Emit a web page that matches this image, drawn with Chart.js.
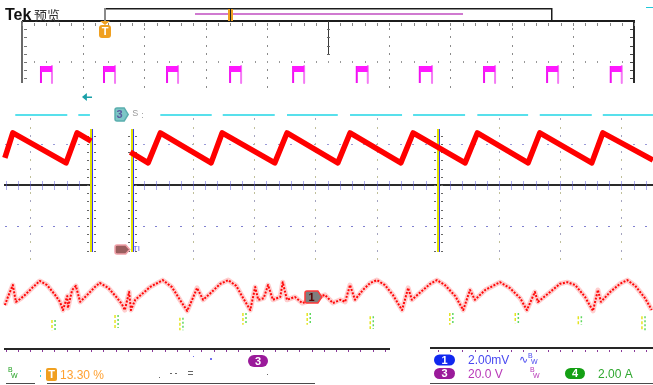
<!DOCTYPE html>
<html>
<head>
<meta charset="utf-8">
<script src="https://cdn.jsdelivr.net/npm/chart.js@4/dist/chart.umd.min.js"></script>
<style>
  html, body { margin: 0; padding: 0; background: #fff; }
  #wrap { width: 653px; height: 385px; position: relative; }
</style>
</head>
<body>
<div id="wrap"><canvas id="scope"></canvas></div>
<script>
// Screen units: x in horizontal divisions (0..10 across the graticule),
// y in vertical divisions (0 = centre line, +/-4 = graticule edges).
const X_MIN = -0.3595, X_MAX = 10.3105;
const Y_MIN = -4.878, Y_MAX = 4.512;

// Channel 3 gate pulses (upper window): edge times in div
const pulseRise = [0.31, 1.34, 2.37, 3.40, 4.43, 5.47, 6.50, 7.55, 8.58, 9.62];
const pulseFall = [0.49, 1.52, 2.55, 3.58, 4.61, 5.65, 6.70, 7.73, 8.76, 9.80];
const PULSE_HIGH = 2.90, PULSE_LOW = 2.49, PULSE_TOP = 2.83;

// Channel 2 level segments (cyan)
const cyanStart = [-0.11, 0.92, 2.26, 3.28, 4.33, 5.36, 6.39, 7.44, 8.46, 9.49];
const cyanEnd   = [0.74, 1.11, 3.10, 4.13, 5.16, 6.21, 7.24, 8.27, 9.31, 10.31];
const CYAN_LEVEL = 1.71;

// Channel 4 inductor current sawtooth: vertex times / levels (two captured spans)
const sawLeftT = [-0.28, -0.15, 0.72, 0.90, 1.13];
const sawLeftV = [0.66, 1.27, 0.54, 1.27, 1.07];
const sawRightT = [1.77, 2.06, 2.26, 3.09, 3.27, 4.13, 4.33, 5.16, 5.36, 6.19, 6.39, 7.24, 7.44, 8.27, 8.46, 9.31, 9.49, 10.31];
const sawRightV = [0.80, 0.54, 1.27, 0.54, 1.27, 0.54, 1.27, 0.54, 1.27, 0.54, 1.27, 0.54, 1.27, 0.54, 1.27, 0.54, 1.27, 0.61];

// Channel 1 ripple (lower window)
const ch1T = [
  -0.28, -0.23, -0.15, -0.10, -0.03, 0.05, 0.18, 0.29, 0.41, 0.54, 0.62, 0.67,
  0.74, 0.75, 0.82, 0.88, 0.95, 1.08, 1.19, 1.27, 1.41, 1.54, 1.63, 1.68,
  1.75, 1.78, 1.85, 1.96, 2.09, 2.30, 2.45, 2.58, 2.70,
  2.78, 2.86, 2.96, 3.10, 3.24, 3.37, 3.50, 3.63, 3.73,
  3.81, 3.86, 3.95, 4.02, 4.10, 4.22, 4.26, 4.33, 4.46, 4.58,
  4.95, 5.08, 5.20, 5.28, 5.36, 5.44, 5.57, 5.69, 5.80, 5.93, 6.06, 6.21,
  6.31, 6.37, 6.50, 6.67, 6.78, 6.91, 7.08, 7.21,
  7.32, 7.40, 7.57, 7.81, 7.97, 8.14, 8.25,
  8.38, 8.43, 8.63, 8.79, 8.91, 9.04, 9.20, 9.33,
  9.41, 9.46, 9.61, 9.77, 9.89, 10.02, 10.18, 10.29
];
const ch1V = [
  -2.93, -2.73, -2.44, -2.85, -2.78, -2.68, -2.49, -2.34, -2.44, -2.68, -2.85, -3.05,
  -2.71, -3.00, -2.56, -2.46, -2.85, -2.66, -2.49, -2.39, -2.51, -2.73, -2.90, -3.05,
  -2.61, -3.05, -2.80, -2.66, -2.49, -2.32, -2.49, -2.80, -3.07,
  -2.80, -2.51, -2.80, -2.61, -2.41, -2.32, -2.46, -2.80, -3.05,
  -2.49, -2.80, -2.76, -2.44, -2.80, -2.73, -2.37, -2.80, -2.73, -2.88,
  -2.68, -2.88, -2.80, -2.85, -2.44, -2.80, -2.56, -2.39, -2.32, -2.44, -2.68, -3.05,
  -2.51, -2.80, -2.63, -2.41, -2.32, -2.44, -2.71, -3.05,
  -2.56, -2.80, -2.56, -2.37, -2.51, -2.76, -3.05,
  -2.61, -2.85, -2.61, -2.41, -2.37, -2.44, -2.73, -3.07,
  -2.56, -2.85, -2.61, -2.41, -2.32, -2.46, -2.76, -3.05
];

// Short glitch strands under the lower trace
const glitchT1 = [0.49, 1.52, 2.58, 3.61, 4.66, 5.69, 6.99, 8.06, 9.09, 10.13];
const glitchT2 = [0.54, 1.57, 2.63, 3.66, 4.71, 5.74, 7.04, 8.11, 9.14, 10.18];
const glitchTop = [-3.29, -3.17, -3.24, -3.12, -3.12, -3.20, -3.12, -3.12, -3.20, -3.20];
const glitchBot = [-3.54, -3.49, -3.54, -3.41, -3.41, -3.51, -3.41, -3.37, -3.41, -3.54];

// Markers and overview strip positions (div)
const TRIG_T = 1.356;
const REC_START = 1.356, REC_END = 8.66, REC_TOP = 4.317;
const VIEW_START = 2.827, VIEW_END = 7.206, VIEW_LEVEL = 4.171, VIEW_MARK = 3.399;

// Readouts
const readouts = {
  trigLevel: '13.30 %',
  ch1: '2.00mV', ch3: '20.0 V', ch4: '2.00 A'
};

function trace(ts, vs) { return ts.map((t, i) => ({ x: t, y: vs[i] })); }

const riseEdges = [], fallEdges = [], pulseTops = [];
pulseRise.forEach((t, i) => {
  const f = pulseFall[i];
  riseEdges.push({ x: t, y: PULSE_LOW }, { x: t, y: PULSE_HIGH }, { x: t, y: null });
  fallEdges.push({ x: f, y: PULSE_HIGH }, { x: f, y: PULSE_LOW }, { x: f, y: null });
  pulseTops.push({ x: t, y: PULSE_TOP }, { x: f, y: PULSE_TOP }, { x: f, y: null });
});

const cyanSegs = [];
cyanStart.forEach((s, i) => {
  cyanSegs.push({ x: s, y: CYAN_LEVEL }, { x: cyanEnd[i], y: CYAN_LEVEL }, { x: cyanEnd[i], y: null });
});

const sawData = [...trace(sawLeftT, sawLeftV), { x: 1.13, y: null }, ...trace(sawRightT, sawRightV)];
const ch1Data = trace(ch1T, ch1V);

function strands(ts) {
  const out = [];
  ts.forEach((t, i) => out.push({ x: t, y: glitchTop[i] }, { x: t, y: glitchBot[i] }, { x: t, y: null }));
  return out;
}

const graticule = {
  id: 'graticule',
  beforeDatasetsDraw(chart) {
    const { ctx } = chart;
    const sx = chart.scales.x, sy = chart.scales.y;
    const X = t => Math.round(sx.getPixelForValue(t));
    const Y = v => Math.round(sy.getPixelForValue(v));
    const hline = (v, t0, t1, color, w) => {
      ctx.fillStyle = color; ctx.fillRect(X(t0), Y(v) - Math.floor(w / 2), X(t1) - X(t0), w);
    };
    const vline = (t, v0, v1, color, w) => {
      ctx.fillStyle = color; ctx.fillRect(X(t) - Math.floor(w / 2), Y(v0), w, Y(v1) - Y(v0));
    };
    const dot = (t, v, w, h, color) => {
      ctx.fillStyle = color; ctx.fillRect(X(t) - Math.floor(w / 2), Y(v) - Math.floor(h / 2), w, h);
    };
    ctx.save();

    // upper window frame
    hline(4, 0, 10.02, '#1c1c1c', 2);
    vline(0, 4, 2.49, '#6a6a6a', 2);
    vline(10, 4, 2.49, '#2a2a2a', 2);
    for (let k = 0; k <= 50; k++) dot(k * 0.2, 3.93, 1, 3, '#888');
    for (let k = 1; k <= 7; k++) {
      const v = 4 - k * 0.2;
      dot(0.05, v, 3, 1, '#777'); dot(9.95, v, 3, 1, '#444');
    }
    for (let i = 1; i <= 9; i++) {
      if (i === 5) continue;
      for (let k = 1; k <= 8; k++) dot(i, 4 - k * 0.2, 1, 2, '#8a8a8a');
    }
    vline(5, 4, 3.2, '#3a3a3a', 1);
    for (let k = 1; k <= 4; k++) dot(5, 4 - k * 0.2, 3, 1, '#666');
    for (let k = 1; k < 50; k++) dot(k * 0.2, 3, 1, 2, '#999');

    // middle window: centre line with its ticks (two captured spans)
    const leftMajor = 0.131, rightMajor = 1.794;
    hline(0, -0.29, 1.131, '#2a2a2a', 2);
    hline(0, 1.794, 10.32, '#2a2a2a', 2);
    const midTicks = [];
    for (let k = -2; k <= 4; k++) midTicks.push(leftMajor + k * 0.2);
    for (let k = 1; k <= 42; k++) midTicks.push(rightMajor + k * 0.2);
    midTicks.forEach(t => {
      ctx.fillStyle = 'rgba(90,90,220,0.5)';
      ctx.fillRect(X(t), Y(0) - 4, 1, 9);
    });
    midTicks.forEach(t => { dot(t, 1, 2, 1, '#9a9ad8'); dot(t, -1, 2, 1, '#8080d0'); });
    const midMajors = [0.131, 2.794, 3.794, 4.794, 5.794, 7.794, 8.794, 9.794];
    midMajors.forEach(t => {
      for (let k = -9; k <= 8; k++) {
        if (k === 0) continue;
        dot(t, k * 0.2, 1, 2, (k % 2 === 0) ? '#a4a4c0' : '#c0c09a');
      }
    });
    // cursor bars
    [1.131, 1.794, 6.794].forEach(t => {
      vline(t, 1.37, -1.63, '#e2e200', 2);
      ctx.fillStyle = '#3535ff'; ctx.fillRect(X(t) + 1, Y(1.37), 1, Y(-1.63) - Y(1.37));
      for (let k = -8; k <= 6; k++) {
        ctx.fillStyle = '#666';
        ctx.fillRect(X(t) - 4, Y(k * 0.2), 2, 1);
        ctx.fillRect(X(t) + 3, Y(k * 0.2), 2, 1);
      }
    });

    // lower window edge and status separators
    hline(-4, -0.29, 6.013, '#262626', 2);
    hline(-3.98, 6.667, 10.32, '#262626', 2);
    for (let k = -2; k <= 29; k++) dot(leftMajor + k * 0.2, -4.06, 1, 2, '#8a3a9a');
    for (let k = 25; k <= 42; k++) dot(rightMajor + k * 0.2, -4.04, 1, 2, '#8a3a9a');
    hline(-4.83, -0.26, 0.21, '#4a4a4a', 1);
    hline(-4.83, 0.41, 4.79, '#4a4a4a', 1);
    hline(-4.83, 6.667, 10.32, '#4a4a4a', 1);
    ctx.restore();
  }
};

function pill(ctx, cx, cy, w, h, fill, label) {
  ctx.fillStyle = fill;
  ctx.beginPath(); ctx.roundRect(cx - w / 2, cy - h / 2, w, h, h / 2); ctx.fill();
  ctx.fillStyle = '#fff';
  ctx.font = 'bold 11px "Liberation Sans", Arial, sans-serif';
  ctx.textAlign = 'center'; ctx.textBaseline = 'middle';
  ctx.fillText(label, cx, cy + 0.5);
}

function flag(ctx, x0, x1, cy, h, fill, stroke, label, textColor) {
  const tip = 4;
  ctx.beginPath();
  ctx.moveTo(x0 + 2, cy - h / 2);
  ctx.lineTo(x1 - tip, cy - h / 2);
  ctx.lineTo(x1, cy);
  ctx.lineTo(x1 - tip, cy + h / 2);
  ctx.lineTo(x0 + 2, cy + h / 2);
  ctx.quadraticCurveTo(x0, cy + h / 2, x0, cy + h / 2 - 2);
  ctx.lineTo(x0, cy - h / 2 + 2);
  ctx.quadraticCurveTo(x0, cy - h / 2, x0 + 2, cy - h / 2);
  ctx.closePath();
  ctx.fillStyle = fill; ctx.fill();
  ctx.strokeStyle = stroke; ctx.lineWidth = 1.5; ctx.stroke();
  if (label) {
    ctx.fillStyle = textColor;
    ctx.font = 'bold 11px "Liberation Sans", Arial, sans-serif';
    ctx.textAlign = 'center'; ctx.textBaseline = 'middle';
    ctx.fillText(label, (x0 + x1 - tip) / 2, cy + 0.5);
  }
}

function bwMark(ctx, x, y, color) {
  ctx.fillStyle = color;
  ctx.font = '7px "Liberation Sans", Arial, sans-serif';
  ctx.textAlign = 'left'; ctx.textBaseline = 'middle';
  ctx.fillText('B', x, y - 3);
  ctx.fillText('W', x + 3, y + 3);
}

const overlays = {
  id: 'overlays',
  afterDatasetsDraw(chart) {
    const { ctx } = chart;
    const X = t => chart.scales.x.getPixelForValue(t);
    const Y = v => chart.scales.y.getPixelForValue(v);
    ctx.save();

    // title
    ctx.fillStyle = '#111';
    ctx.font = 'bold 16px "Liberation Sans", Arial, sans-serif';
    ctx.textAlign = 'left'; ctx.textBaseline = 'alphabetic';
    ctx.fillText('Tek', 5, 20);
    ctx.fillStyle = '#333';
    ctx.font = '13px "Noto Sans CJK SC", sans-serif';
    ctx.fillText('预览', 34, 20);

    // record overview strip
    const rx0 = Math.round(X(REC_START)), rx1 = Math.round(X(REC_END));
    const ry0 = Math.round(Y(REC_TOP)), ry1 = Math.round(Y(4));
    ctx.fillStyle = '#1c1c1c';
    ctx.fillRect(rx0, ry0, rx1 - rx0, 1.5);
    ctx.fillRect(rx1 - 1, ry0, 1.5, ry1 - ry0);
    ctx.fillStyle = '#8a8a8a';
    ctx.fillRect(rx0 - 1, ry0, 2, ry1 - ry0);
    ctx.fillStyle = '#d07ad0';
    ctx.fillRect(X(VIEW_START), Math.round(Y(VIEW_LEVEL)) - 1, X(VIEW_END) - X(VIEW_START), 2);
    const mx = Math.round(X(VIEW_MARK));
    ctx.fillStyle = '#f0a020'; ctx.fillRect(mx - 2, ry0 + 1, 5, ry1 - ry0 - 1);
    ctx.fillStyle = '#222'; ctx.fillRect(mx, ry0 + 1, 1, ry1 - ry0 - 1);
    ctx.fillStyle = '#20c8d8'; ctx.fillRect(646, 7, 7, 1);

    // trigger position marker
    const tx = Math.round(X(TRIG_T)), ty = Math.round(Y(4));
    ctx.fillStyle = '#f0a020';
    ctx.beginPath(); ctx.moveTo(tx - 5, ty); ctx.lineTo(tx + 5, ty); ctx.lineTo(tx, ty + 4); ctx.closePath(); ctx.fill();
    ctx.beginPath(); ctx.roundRect(tx - 6, ty + 4, 12, 13, 3); ctx.fill();
    ctx.fillStyle = '#fff';
    ctx.font = 'bold 11px "Liberation Sans", Arial, sans-serif';
    ctx.textAlign = 'center'; ctx.textBaseline = 'middle';
    ctx.fillText('T', tx, ty + 11);

    // channel 2 ground arrow
    const ay = Math.round(Y(2.146));
    ctx.fillStyle = '#1aa0a8';
    ctx.beginPath(); ctx.moveTo(X(0.98), ay); ctx.lineTo(X(1.06), ay - 4); ctx.lineTo(X(1.06), ay + 4); ctx.closePath(); ctx.fill();
    ctx.fillRect(X(1.04), ay - 0.5, X(1.144) - X(1.04), 1.5);

    // channel markers
    flag(ctx, X(1.52), X(1.735), Y(1.72), 13, '#7cc6c6', '#5aaeae', '3', '#5a5aa0');
    ctx.fillStyle = '#9a9a9a';
    ctx.font = '9px "Liberation Sans", Arial, sans-serif';
    ctx.textAlign = 'left'; ctx.textBaseline = 'middle';
    ctx.fillText('S', X(1.80), Y(1.74));
    ctx.fillText(':', X(1.95), Y(1.70));
    flag(ctx, X(1.52), X(1.76), Y(-1.573), 9, '#9a5e5e', '#f0a0a8', '', '#fff');
    ctx.fillStyle = '#5a5ae0';
    ctx.font = '8px "Liberation Sans", Arial, sans-serif';
    ctx.fillText('TI', X(1.81), Y(-1.56));
    flag(ctx, X(4.624), X(4.90), Y(-2.732), 12, '#7e7e7e', '#ff3a3a', '1', '#5a0000');

    // status area
    pill(ctx, 258, 361, 20, 12, '#9a1a9a', '3');
    bwMark(ctx, 8, 373, '#20a020');
    ctx.fillStyle = '#40d0e0'; ctx.fillRect(40, 370, 1, 2); ctx.fillRect(40, 375, 1, 2);
    ctx.fillStyle = '#f0a020';
    ctx.beginPath(); ctx.roundRect(46, 368, 11, 13, 2); ctx.fill();
    ctx.fillStyle = '#fff';
    ctx.font = 'bold 11px "Liberation Sans", Arial, sans-serif';
    ctx.textAlign = 'center'; ctx.textBaseline = 'middle';
    ctx.fillText('T', 51.5, 375);
    ctx.fillStyle = '#ffa030';
    ctx.font = '12px "Liberation Sans", Arial, sans-serif';
    ctx.textAlign = 'left';
    ctx.fillText(readouts.trigLevel, 60, 375.5);
    ctx.fillStyle = '#666';
    ctx.fillRect(159, 377, 1, 1); ctx.fillRect(170, 373, 2, 1); ctx.fillRect(175, 373, 2, 1);
    ctx.fillRect(188, 371, 5, 1); ctx.fillRect(188, 374, 5, 1);
    ctx.fillRect(267, 374, 1, 1);
    ctx.fillStyle = '#7070f0'; ctx.fillRect(193, 356, 1, 1); ctx.fillRect(210, 358, 2, 2);

    pill(ctx, 444.5, 360, 21, 11, '#1028f0', '1');
    pill(ctx, 444.5, 373.5, 21, 11, '#9a1a9a', '3');
    pill(ctx, 575, 373.5, 20, 11, '#14a014', '4');
    ctx.font = '12px "Liberation Sans", Arial, sans-serif';
    ctx.textAlign = 'left'; ctx.textBaseline = 'middle';
    ctx.fillStyle = '#4848f0'; ctx.fillText(readouts.ch1, 468, 360.5);
    ctx.fillStyle = '#b838b8'; ctx.fillText(readouts.ch3, 468, 374.5);
    ctx.fillStyle = '#30a830'; ctx.fillText(readouts.ch4, 598, 374.5);
    ctx.fillStyle = '#4848f0';
    ctx.font = '11px "DejaVu Sans", sans-serif';
    ctx.fillText('\u223F', 519, 360);
    bwMark(ctx, 528, 359, '#4848f0');
    bwMark(ctx, 530, 373, '#b838b8');
    ctx.restore();
  }
};

new Chart(document.getElementById('scope'), {
  type: 'line',
  data: {
    datasets: [
      { data: pulseTops, borderColor: '#ff18ff', borderWidth: 6, borderCapStyle: 'butt' },
      { data: riseEdges, borderColor: '#f010f0', borderWidth: 2 },
      { data: fallEdges, borderColor: '#f47af4', borderWidth: 2 },
      { data: cyanSegs, borderColor: '#22d6e6', borderWidth: 1.5 },
      { data: sawData, borderColor: '#ff0000', borderWidth: 5.5 },
      { data: strands(glitchT1), borderColor: '#e4e420', borderWidth: 1.5, borderDash: [3, 2] },
      { data: strands(glitchT2), borderColor: '#60d860', borderWidth: 1.5, borderDash: [2, 2] },
      { data: ch1Data, borderColor: 'rgba(255,30,30,0.22)', borderWidth: 5 },
      { data: ch1Data, borderColor: '#ff0000', borderWidth: 2, borderDash: [2, 1.5] }
    ]
  },
  options: {
    responsive: true,
    maintainAspectRatio: false,
    animation: false,
    layout: { padding: 0 },
    plugins: { legend: { display: false }, tooltip: { enabled: false } },
    elements: { point: { radius: 0 }, line: { tension: 0, fill: false, borderJoinStyle: 'round' } },
    scales: {
      x: { type: 'linear', min: X_MIN, max: X_MAX, display: false },
      y: { type: 'linear', min: Y_MIN, max: Y_MAX, display: false }
    }
  },
  plugins: [graticule, overlays]
});
</script>
</body>
</html>
